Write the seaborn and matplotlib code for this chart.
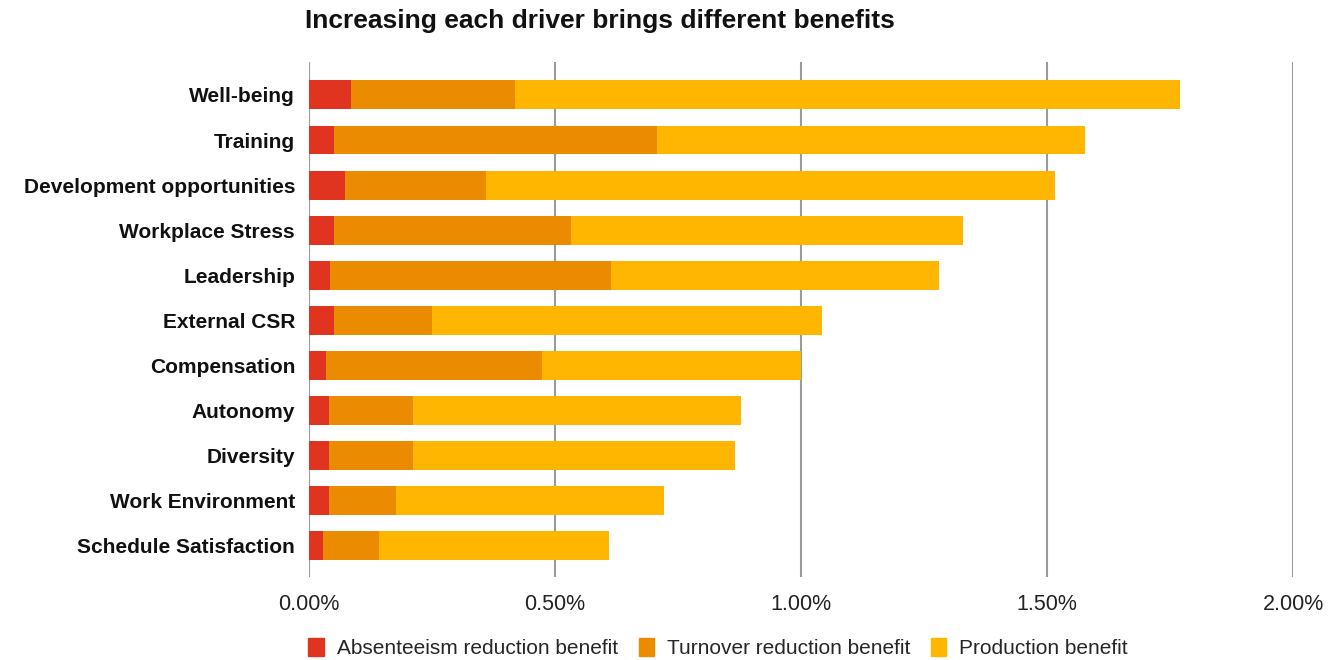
import matplotlib.pyplot as plt
import matplotlib.patches as mpatches
import matplotlib.ticker as mticker
import numpy as np
import pandas as pd
import seaborn as sns

drivers = ["Well-being", "Training", "Development opportunities", "Workplace Stress",
           "Leadership", "External CSR", "Compensation", "Autonomy", "Diversity",
           "Work Environment", "Schedule Satisfaction"]
absenteeism = [0.085, 0.051, 0.073, 0.051, 0.043, 0.051, 0.034, 0.040, 0.040, 0.040, 0.028]
turnover = [0.334, 0.657, 0.287, 0.481, 0.570, 0.198, 0.440, 0.171, 0.171, 0.136, 0.114]
production = [1.352, 0.869, 1.156, 0.798, 0.668, 0.793, 0.526, 0.668, 0.655, 0.545, 0.467]

series_labels = ["Absenteeism reduction benefit", "Turnover reduction benefit", "Production benefit"]
colors = ["#E03320", "#EB8C00", "#FFB600"]

df = pd.DataFrame({"driver": drivers, "absenteeism": absenteeism,
                   "turnover": turnover, "production": production})
df["end_red"] = df["absenteeism"]
df["end_orange"] = df["absenteeism"] + df["turnover"]
df["end_total"] = df["end_orange"] + df["production"]

sns.set_theme(style="white")
plt.rcParams["font.family"] = ["Liberation Sans", "DejaVu Sans"]

fig = plt.figure(figsize=(13.36, 6.6), dpi=100)
ax = fig.add_axes([309 / 1336, 1 - 577 / 660, (1293 - 309) / 1336, (577 - 62) / 660])

# stacked bars drawn as overlapping cumulative totals
for col, color in zip(["end_total", "end_orange", "end_red"], colors[::-1]):
    sns.barplot(data=df, x=col, y="driver", orient="h", color=color, width=0.64,
                saturation=1, linewidth=0, edgecolor="none", ax=ax, zorder=3)

ax.set_xlim(0, 2.0)
ax.set_ylim(10.69, -0.73)
ax.set_xticks([0, 0.5, 1.0, 1.5, 2.0])
ax.xaxis.set_major_formatter(mticker.FuncFormatter(lambda v, p: f"{v:.2f}%"))
ax.grid(axis="x", color="#9a9a9a", linewidth=1.5, zorder=0)
ax.grid(axis="y", visible=False)
for s in ax.spines.values():
    s.set_visible(False)
ax.set_xlabel("")
ax.set_ylabel("")
ax.tick_params(axis="both", length=0)
ax.tick_params(axis="x", labelsize=15.5, pad=12, colors="#222222")
ax.tick_params(axis="y", labelsize=15.0, pad=10)
for lbl in ax.get_yticklabels():
    lbl.set_fontweight("bold")
    lbl.set_color("#111111")

fig.text(305 / 1336, 1 - 21 / 660, "Increasing each driver brings different benefits",
         fontsize=19, fontweight="bold", va="center", ha="left", color="#111111")

handles = [mpatches.Patch(color=c, label=l) for c, l in zip(colors, series_labels)]
fig.legend(handles=handles, loc="center left", bbox_to_anchor=(298 / 1336, 1 - 648 / 660),
           ncol=3, frameon=False, fontsize=15.0, handlelength=0.75, handleheight=0.95,
           handletextpad=0.6, columnspacing=1.0, borderpad=0.0)

fig.savefig("out.png", dpi=100)
